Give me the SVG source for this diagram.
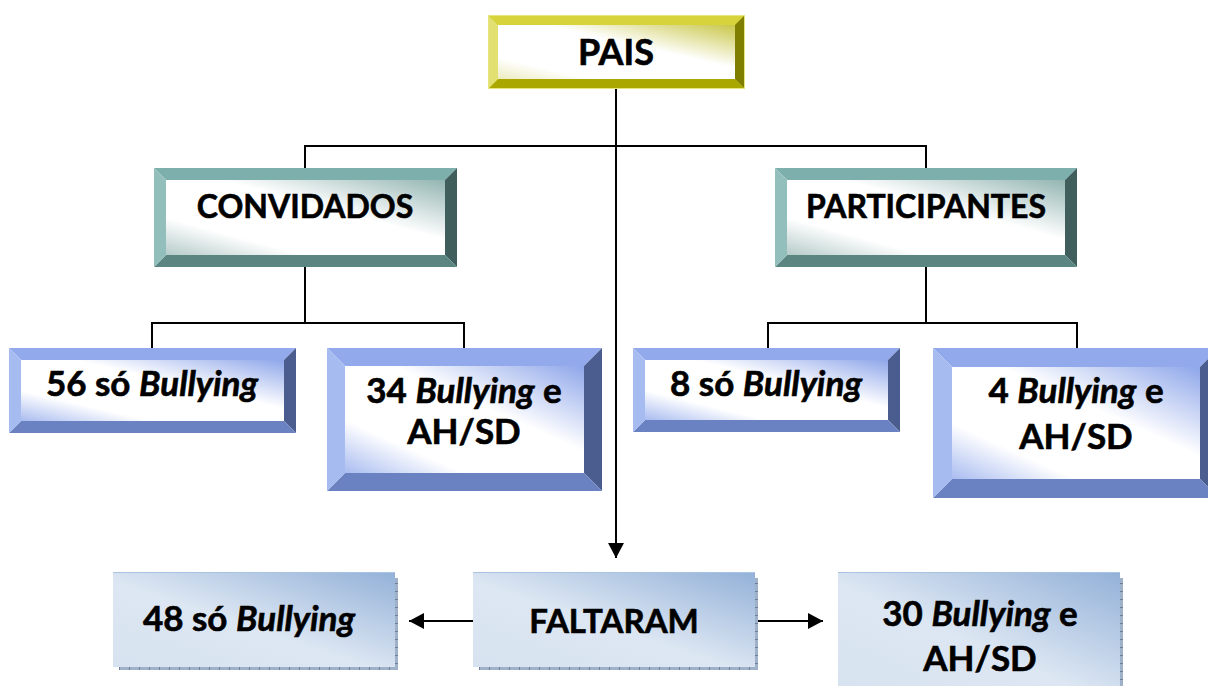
<svg xmlns="http://www.w3.org/2000/svg" width="1208" height="686" viewBox="0 0 1208 686">
  <defs>
    <style>
      .lbl { font-family: Lato, "Liberation Sans", sans-serif; font-weight: bold; fill: #000; stroke: #000; stroke-width: 0.6; text-anchor: middle; }
      .it { font-style: italic; }
      .conn { stroke: #000; stroke-width: 2; fill: none; }
      .edge { stroke-width: 1; }
    </style>
    <marker id="arrow" markerUnits="userSpaceOnUse" markerWidth="16" markerHeight="16" refX="15" refY="8" orient="auto">
      <path d="M0,0 L15,8 L0,16 z" fill="#000"/>
    </marker>
    <!-- face fills of the bevelled boxes -->
    <linearGradient id="faceYellow" x1="1" y1="0" x2="0" y2="1">
      <stop offset="0" stop-color="#c9c74a"/>
      <stop offset="0.4" stop-color="#ffffff"/>
      <stop offset="0.8" stop-color="#ffffff"/>
      <stop offset="1" stop-color="#ecebc0"/>
    </linearGradient>
    <linearGradient id="faceTeal" x1="1" y1="0" x2="0" y2="1">
      <stop offset="0" stop-color="#93b5b2"/>
      <stop offset="0.4" stop-color="#ffffff"/>
      <stop offset="0.75" stop-color="#ffffff"/>
      <stop offset="1" stop-color="#b5cbc9"/>
    </linearGradient>
    <linearGradient id="faceBlue" x1="1" y1="0" x2="0" y2="1">
      <stop offset="0" stop-color="#8ea6ea"/>
      <stop offset="0.4" stop-color="#ffffff"/>
      <stop offset="0.75" stop-color="#ffffff"/>
      <stop offset="1" stop-color="#a9bcf0"/>
    </linearGradient>
    <linearGradient id="flatBlue" x1="0" y1="1" x2="1" y2="0">
      <stop offset="0" stop-color="#d7e2f0"/>
      <stop offset="0.45" stop-color="#dde7f3"/>
      <stop offset="1" stop-color="#93b1d8"/>
    </linearGradient>
    <pattern id="ticksV" width="4" height="8" patternUnits="userSpaceOnUse">
      <rect width="4" height="8" fill="#9fb1c8"/>
      <rect y="7" width="4" height="1" fill="#6d7f98"/>
    </pattern>
    <pattern id="ticksH" width="10" height="4" patternUnits="userSpaceOnUse">
      <rect width="10" height="4" fill="#9fb1c8"/>
      <rect x="9" width="1" height="4" fill="#6d7f98"/>
    </pattern>
  </defs>

  <rect width="1208" height="686" fill="#ffffff"/>

  <!-- connectors -->
  <g id="connectors">
    <line class="conn" x1="616" y1="89" x2="616" y2="558" marker-end="url(#arrow)"/>
    <polyline class="conn" points="305,168 305,146 926,146 926,168"/>
    <line class="conn" x1="305" y1="267" x2="305" y2="323"/>
    <polyline class="conn" points="152,348 152,323 464,323 464,348"/>
    <line class="conn" x1="926" y1="267" x2="926" y2="323"/>
    <polyline class="conn" points="768,348 768,323 1077,323 1077,348"/>
    <line class="conn" x1="473" y1="621" x2="409" y2="621" marker-end="url(#arrow)"/>
    <line class="conn" x1="755" y1="621" x2="823" y2="621" marker-end="url(#arrow)"/>
  </g>

  <!-- PAIS: x488 y15 w257 h74 bevel10 -->
  <g id="pais">
    <rect x="488" y="15" width="257" height="74" fill="#c8c63a"/>
    <polygon points="488,15 745,15 735,25 498,25" fill="#d6d43a"/>
    <polygon points="745,15 745,89 735,79 735,25" fill="#7f7e00"/>
    <polygon points="488,89 745,89 735,79 498,79" fill="#a9a700"/>
    <polygon points="488,15 498,25 498,79 488,89" fill="#e2e070"/>
    <rect x="498" y="25" width="237" height="54" fill="url(#faceYellow)"/>
    <rect class="edge" x="488.5" y="15.5" width="256" height="73" fill="none" stroke="#e6e47a"/>
    <text class="lbl" x="616" y="65" font-size="36">PAIS</text>
  </g>

  <!-- CONVIDADOS: x154 y168 w303 h99 bevel12 -->
  <g id="convidados">
    <polygon points="154,168 457,168 445,180 166,180" fill="#7db0ac"/>
    <polygon points="457,168 457,267 445,255 445,180" fill="#3f5e5c"/>
    <polygon points="154,267 457,267 445,255 166,255" fill="#5a8581"/>
    <polygon points="154,168 166,180 166,255 154,267" fill="#92bebb"/>
    <rect x="166" y="180" width="279" height="75" fill="url(#faceTeal)"/>
    <text class="lbl" x="305" y="218" font-size="32">CONVIDADOS</text>
  </g>

  <!-- PARTICIPANTES: x775 y168 w302 h99 bevel12 -->
  <g id="participantes">
    <polygon points="775,168 1077,168 1065,180 787,180" fill="#7db0ac"/>
    <polygon points="1077,168 1077,267 1065,255 1065,180" fill="#3f5e5c"/>
    <polygon points="775,267 1077,267 1065,255 787,255" fill="#5a8581"/>
    <polygon points="775,168 787,180 787,255 775,267" fill="#92bebb"/>
    <rect x="787" y="180" width="278" height="75" fill="url(#faceTeal)"/>
    <text class="lbl" x="926" y="218" font-size="32">PARTICIPANTES</text>
  </g>

  <!-- 56 só Bullying: x9 y348 w287 h85 bevel12 -->
  <g id="conv-bullying">
    <polygon points="9,348 296,348 284,360 21,360" fill="#92aaec"/>
    <polygon points="296,348 296,433 284,421 284,360" fill="#4b5d8f"/>
    <polygon points="9,433 296,433 284,421 21,421" fill="#6a82c2"/>
    <polygon points="9,348 21,360 21,421 9,433" fill="#a6bbf0"/>
    <rect x="21" y="360" width="263" height="61" fill="url(#faceBlue)"/>
    <text class="lbl" x="152" y="396" font-size="35">56 só <tspan class="it">Bullying</tspan></text>
  </g>

  <!-- 34 Bullying e AH/SD: x327 y348 w275 h143 bevel18 -->
  <g id="conv-bullying-ahsd">
    <polygon points="327,348 602,348 584,366 345,366" fill="#92aaec"/>
    <polygon points="602,348 602,491 584,473 584,366" fill="#4b5d8f"/>
    <polygon points="327,491 602,491 584,473 345,473" fill="#6a82c2"/>
    <polygon points="327,348 345,366 345,473 327,491" fill="#a6bbf0"/>
    <rect x="345" y="366" width="239" height="107" fill="url(#faceBlue)"/>
    <text class="lbl" x="464" y="403" font-size="35">34 <tspan class="it">Bullying</tspan> e</text>
    <text class="lbl" x="464" y="444" font-size="35">AH/SD</text>
  </g>

  <!-- 8 só Bullying: x633 y348 w267 h84 bevel12 -->
  <g id="part-bullying">
    <polygon points="633,348 900,348 888,360 645,360" fill="#92aaec"/>
    <polygon points="900,348 900,432 888,420 888,360" fill="#4b5d8f"/>
    <polygon points="633,432 900,432 888,420 645,420" fill="#6a82c2"/>
    <polygon points="633,348 645,360 645,420 633,432" fill="#a6bbf0"/>
    <rect x="645" y="360" width="243" height="60" fill="url(#faceBlue)"/>
    <text class="lbl" x="766" y="396" font-size="35">8 só <tspan class="it">Bullying</tspan></text>
  </g>

  <!-- 4 Bullying e AH/SD: x933 y348 w286 h150 bevel19 -->
  <g id="part-bullying-ahsd">
    <polygon points="933,348 1219,348 1200,367 952,367" fill="#92aaec"/>
    <polygon points="1219,348 1219,498 1200,479 1200,367" fill="#4b5d8f"/>
    <polygon points="933,498 1219,498 1200,479 952,479" fill="#6a82c2"/>
    <polygon points="933,348 952,367 952,479 933,498" fill="#a6bbf0"/>
    <rect x="952" y="367" width="248" height="112" fill="url(#faceBlue)"/>
    <text class="lbl" x="1076" y="403" font-size="35">4 <tspan class="it">Bullying</tspan> e</text>
    <text class="lbl" x="1076" y="449" font-size="35">AH/SD</text>
  </g>

  <!-- FALTARAM: x473 y572 w282 h95 -->
  <g id="faltaram">
    <rect x="755" y="578" width="3" height="92" fill="url(#ticksV)"/>
    <rect x="479" y="667" width="279" height="3" fill="url(#ticksH)"/>
    <rect x="473" y="572" width="282" height="95" fill="url(#flatBlue)"/>
    <line x1="473" y1="572.5" x2="755" y2="572.5" stroke="#a9c3e3" stroke-width="1"/>
    <text class="lbl" x="614" y="633" font-size="33">FALTARAM</text>
  </g>

  <!-- 48 só Bullying: x113 y572 w282 h95 -->
  <g id="falt-bullying">
    <rect x="395" y="578" width="3" height="92" fill="url(#ticksV)"/>
    <rect x="119" y="667" width="279" height="3" fill="url(#ticksH)"/>
    <rect x="113" y="572" width="282" height="95" fill="url(#flatBlue)"/>
    <line x1="113" y1="572.5" x2="395" y2="572.5" stroke="#a9c3e3" stroke-width="1"/>
    <text class="lbl" x="249" y="631" font-size="35">48 só <tspan class="it">Bullying</tspan></text>
  </g>

  <!-- 30 Bullying e AH/SD: x838 y572 w282, runs past the lower edge -->
  <g id="falt-bullying-ahsd">
    <rect x="1120" y="578" width="3" height="120" fill="url(#ticksV)"/>
    <rect x="838" y="572" width="282" height="124" fill="url(#flatBlue)"/>
    <line x1="838" y1="572.5" x2="1120" y2="572.5" stroke="#a9c3e3" stroke-width="1"/>
    <text class="lbl" x="980" y="626" font-size="35">30 <tspan class="it">Bullying</tspan> e</text>
    <text class="lbl" x="980" y="671" font-size="35">AH/SD</text>
  </g>
</svg>
